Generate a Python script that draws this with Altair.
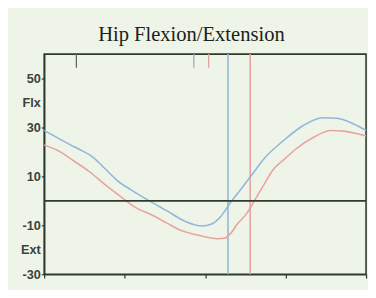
import altair as alt
import pandas as pd

# Gait cycle (%) and hip angle (deg)
blue_x = [0, 8, 11, 15, 19, 23, 27, 32, 38, 44, 49, 52, 55, 58, 61, 65, 68.5, 74.5, 80.5, 86.5, 91, 96, 100]
blue_y = [28.8, 23, 21, 18, 13, 8, 4.5, 0.5, -4, -8.5, -10.3, -9.5, -6.2, -0.5, 4.5, 11.5, 17.5, 24.8, 30.8, 34, 33.8, 31.5, 28.8]
red_x = [0, 5, 9, 14, 19, 24, 29, 33, 38, 42, 47, 51, 54, 56, 58, 60, 63, 65.5, 68, 71, 75, 78, 84, 89, 93, 97, 100]
red_y = [22.8, 20, 16.5, 12, 6.5, 1.5, -3.2, -5.5, -9, -11.8, -13.8, -15, -15.5, -15.3, -13.2, -9.5, -5, 0.5, 6, 12.5, 17.5, 21, 26.2, 28.8, 28.5, 27.5, 26.5]

series_names = ["blue", "red"]
series_colors = ["#93b6da", "#eaa3a0"]

foot_off_x = [57.1, 64.0]          # vertical lines
event_x = [10.0, 46.5, 51.1]       # top ticks
event_colors = ["#606860", "#9aaac4", "#dba09c"]

y_tick_values = [50, 40, 30, 10, -10, -20, -30]
x_tick_values = [0, 25, 50, 75, 100]

curves = pd.DataFrame(
    {"pct": blue_x + red_x,
     "angle": blue_y + red_y,
     "side": ["blue"] * len(blue_x) + ["red"] * len(red_x)}
)
fo = pd.DataFrame({"pct": foot_off_x, "side": series_names})
ev = pd.DataFrame({"pct": event_x, "c": event_colors})
zero = pd.DataFrame({"y": [0]})

xs = alt.Scale(domain=[0, 100], nice=False, zero=False)
ys = alt.Scale(domain=[-30, 60], nice=False, zero=False)
cs = alt.Scale(domain=series_names, range=series_colors)

x_axis = alt.Axis(values=x_tick_values, labels=False, tickSize=4, tickColor="#333",
                  domainColor="#2e3a2e", domainWidth=1.6, grid=False, title=None, tickWidth=1.2)
y_axis = alt.Axis(values=y_tick_values, tickSize=3, tickColor="#333", tickWidth=1.2,
                  tickOpacity={"condition": {"test": "datum.value == 40 || datum.value == -20", "value": 0}, "value": 1},
                  labelExpr="datum.value == 40 ? 'Flx' : (datum.value == -20 ? 'Ext' : '' + datum.value)",
                  labelFont="Liberation Sans", labelFontSize=13, labelFontWeight="bold",
                  labelColor="#3c423c", labelPadding=1,
                  labelOverlap=False, labelFlush=False, labelBound=False,
                  domainColor="#2e3a2e", domainWidth=1.6, grid=False, title=None)

lines = alt.Chart(curves).mark_line(strokeWidth=1.6, interpolate="monotone").encode(
    x=alt.X("pct:Q", scale=xs, axis=x_axis),
    y=alt.Y("angle:Q", scale=ys, axis=y_axis),
    color=alt.Color("side:N", scale=cs, legend=None),
)

vlines = alt.Chart(fo).mark_rule(strokeWidth=1.6).encode(
    x=alt.X("pct:Q", scale=xs, axis=x_axis),
    color=alt.Color("side:N", scale=cs, legend=None),
)

zline = alt.Chart(zero).mark_rule(color="#2e3a2e", strokeWidth=1.6).encode(
    y=alt.Y("y:Q", scale=ys, axis=y_axis),
)

ticks = alt.Chart(ev).mark_rule(strokeWidth=1.3).encode(
    x=alt.X("pct:Q", scale=xs, axis=x_axis),
    y=alt.value(0),
    y2=alt.value(14),
    color=alt.Color("c:N", scale=None),
)

chart = alt.layer(vlines, lines, zline, ticks).properties(
    width=329,
    height=225,
    title=alt.TitleParams("Hip Flexion/Extension", font="Liberation Serif", fontSize=21,
                          fontWeight="normal", color="#1a221a", anchor="middle", dx=-14, offset=9),
    autosize=alt.AutoSizeParams(type="none"),
    padding={"left": 37, "top": 44, "right": 2, "bottom": 13},
    background="#eef5e8",
).configure_view(stroke="#2e3a2e", strokeWidth=1.6, fill="#eef5e8").configure_axis(labelOverlap=False)

chart.save("out.html", embed_options={"renderer": "svg", "actions": False})
